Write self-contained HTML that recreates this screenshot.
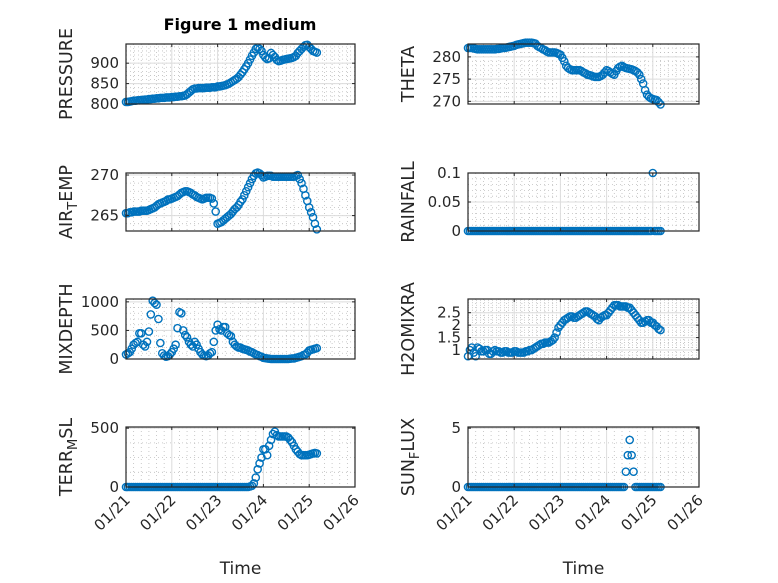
<!DOCTYPE html>
<html><head><meta charset="utf-8"><style>
body{margin:0;background:#fff;}
svg{display:block;font-family:"DejaVu Sans","Liberation Sans",sans-serif;}
</style></head><body>
<svg id="fig" width="778" height="583" viewBox="0 0 778 583">
<rect width="778" height="583" fill="#fff"/>
<text x="240" y="30" text-anchor="middle" font-size="16" font-weight="bold" fill="#000">Figure 1 medium</text>
</svg>
<script>
const dayLabels=["01/21","01/22","01/23","01/24","01/25","01/26"];
const pressure=[805,805,806,807,808,808,809,809,810,810,811,811,
812,812,813,813,814,814,815,815,815,816,816,816,
817,817,818,818,819,819,820,821,824,828,832,836,
838,838,839,839,839,839,840,840,840,841,841,841,
843,843,844,845,846,848,850,853,856,859,862,866,
872,878,885,892,900,909,918,926,935,938,935,930,
920,914,910,912,925,920,915,908,905,906,908,909,
910,911,912,913,915,918,925,930,935,940,944,945,
940,935,930,928,926];
const theta=[282,282,282,281.9,281.8,281.7,281.7,281.7,281.7,281.7,281.7,281.7,
281.7,281.7,281.7,281.8,281.8,281.9,282,282,282.1,282.2,282.3,282.4,
282.5,282.7,282.8,282.9,283,283.1,283.2,283.2,283.2,283.2,283.1,283,
282.5,282.2,282,281.7,281.5,281.2,281,281,281,281,280.9,280.7,
280.5,279.8,279,278,277.5,277.2,277,277,277,277,277,276.8,
276.5,276.3,276,275.9,275.8,275.6,275.5,275.5,275.5,275.7,276,276.5,
277,276.8,276.5,276.2,276,276.8,277.5,277.8,278,277.7,277.5,277.4,
277.3,277.2,277,276.8,276.5,276,275,274,272.5,271.5,271,270.7,
270.5,270.4,270.3,269.8,269.3];
const airTemp=[265.3,265.3,265.4,265.4,265.5,265.5,265.5,265.5,265.6,265.6,265.6,265.6,
265.7,265.8,265.9,266,266.2,266.4,266.5,266.6,266.7,266.8,267,267,
267.1,267.2,267.3,267.4,267.6,267.8,267.9,268,268,267.9,267.8,267.6,
267.5,267.3,267.2,267.1,267,267.1,267.2,267.2,267.2,267.1,266.5,265.5,
264,264.1,264.2,264.4,264.6,264.8,265,265.2,265.5,265.8,266,266.3,
266.7,267,267.5,268,268.5,269,269.5,269.9,270.2,270.3,270.2,270,
269.7,269.8,269.9,269.9,269.9,269.8,269.8,269.8,269.8,269.8,269.8,269.8,
269.8,269.8,269.8,269.8,269.8,269.9,270,269.5,269,268.3,267.5,266.8,
266,265.4,264.8,264,263.3];
const rainfall=[0,0,0,0,0,0,0,0,0,0,0,0,
0,0,0,0,0,0,0,0,0,0,0,0,
0,0,0,0,0,0,0,0,0,0,0,0,
0,0,0,0,0,0,0,0,0,0,0,0,
0,0,0,0,0,0,0,0,0,0,0,0,
0,0,0,0,0,0,0,0,0,0,0,0,
0,0,0,0,0,0,0,0,0,0,0,0,
0,0,0,0,0,0,0,0,0,0,0,0,
0.1,0,0,0,0];
const mixDepth=[80,100,120,180,250,280,300,450,450,250,220,300,
480,780,1020,980,950,700,280,100,60,40,50,80,
120,180,250,540,820,800,500,420,380,300,250,220,
300,250,180,120,80,60,50,60,100,120,300,500,
600,520,500,560,560,450,420,400,300,250,220,200,
200,180,170,160,150,130,120,100,80,70,50,40,
20,15,10,5,0,0,0,0,0,0,0,0,
0,0,5,10,10,20,30,40,50,70,80,110,
150,160,170,180,190];
const h2oMix=[0.75,1.0,1.1,0.9,0.75,1.1,1.05,0.95,0.95,1.0,1.0,0.85,
0.85,0.95,1.0,0.95,0.95,0.9,0.9,0.95,0.95,0.9,0.9,0.9,
0.95,0.95,0.9,0.9,0.9,0.9,0.95,0.95,1.0,1.0,1.05,1.1,
1.15,1.2,1.25,1.25,1.3,1.3,1.3,1.35,1.4,1.5,1.7,1.9,
2.0,2.1,2.2,2.25,2.3,2.35,2.35,2.3,2.3,2.35,2.4,2.45,
2.5,2.55,2.55,2.5,2.45,2.4,2.35,2.25,2.2,2.3,2.35,2.4,
2.4,2.5,2.6,2.7,2.8,2.8,2.8,2.75,2.75,2.75,2.75,2.7,
2.7,2.6,2.5,2.4,2.3,2.2,2.1,2.1,2.15,2.2,2.2,2.1,
2.1,2.0,1.95,1.85,1.8];
const terrMsl=[0,0,0,0,0,0,0,0,0,0,0,0,
0,0,0,0,0,0,0,0,0,0,0,0,
0,0,0,0,0,0,0,0,0,0,0,0,
0,0,0,0,0,0,0,0,0,0,0,0,
0,0,0,0,0,0,0,0,0,0,0,0,
0,0,0,0,0,5,10,30,80,150,200,250,
320,320,270,350,400,450,470,440,430,430,430,430,
430,420,400,380,350,320,300,280,270,270,270,270,
275,280,285,290,285];
const sunFlux=[0,0,0,0,0,0,0,0,0,0,0,0,
0,0,0,0,0,0,0,0,0,0,0,0,
0,0,0,0,0,0,0,0,0,0,0,0,
0,0,0,0,0,0,0,0,0,0,0,0,
0,0,0,0,0,0,0,0,0,0,0,0,
0,0,0,0,0,0,0,0,0,0,0,0,
0,0,0,0,0,0,0,0,0,0,1.3,2.7,
4.0,2.7,1.3,0,0,0,0,0,0,0,0,0,
0,0,0,0,0];
const pressureTicks=[800,850,900];
const thetaTicks=[270,275,280];
const airTicks=[265,270];
const rainTicks=[0,0.05,0.1];
const rainLabels=["0","0.05","0.1"];
const mixTicks=[0,500,1000];
const h2oTicks=[1,1.5,2,2.5];
const terrTicks=[0,500];
const sunTicks=[0,5];

const NS="http://www.w3.org/2000/svg";
const svg=document.getElementById('fig');
function mk(tag,attrs,parent){const e=document.createElementNS(NS,tag);for(const k in attrs)e.setAttribute(k,attrs[k]);(parent||svg).appendChild(e);return e;}

const panels=[
 {name:'pressure',data:pressure,ticks:pressureTicks,y0:800,y1:947,minor:5,col:0,row:0,label:['PRESSURE']},
 {name:'theta',data:theta,ticks:thetaTicks,y0:269.4,y1:282.9,minor:5,col:1,row:0,label:['THETA']},
 {name:'air-temp',data:airTemp,ticks:airTicks,y0:263.1,y1:270.25,minor:5,col:0,row:1,label:['AIR','T','EMP']},
 {name:'rainfall',data:rainfall,ticks:rainTicks,labels:rainLabels,y0:0,y1:0.1,minor:5,col:1,row:1,label:['RAINFALL']},
 {name:'mixdepth',data:mixDepth,ticks:mixTicks,y0:0,y1:1050,minor:5,col:0,row:2,label:['MIXDEPTH']},
 {name:'h2omixra',data:h2oMix,ticks:h2oTicks,y0:0.64,y1:3.05,minor:5,col:1,row:2,label:['H2OMIXRA']},
 {name:'terr-msl',data:terrMsl,ticks:terrTicks,y0:0,y1:510,minor:4,col:0,row:3,label:['TERR','M','SL']},
 {name:'sun-flux',data:sunFlux,ticks:sunTicks,y0:0,y1:5.1,minor:4,col:1,row:3,label:['SUN','F','LUX']}
];
const colX=[[126,355],[468,699]];
const rowY=[[44,104],[173,231],[299,359],[427,487]];

panels.forEach(p=>{
 const [L,R]=colX[p.col];const [T,B]=rowY[p.row];
 const g=mk('g',{});
 
 
 const xs=d=>L+(R-L)*d/5;
 const ys=v=>B-(B-T)*(v-p.y0)/(p.y1-p.y0);
 for(let d=0;d<5;d++)for(let k=1;k<6;k++){const x=xs(d+k/6);mk('line',{x1:x,x2:x,y1:T,y2:B,stroke:'#bdbdbd','stroke-width':0.8,'stroke-dasharray':'1 3'},g);}
 const step=p.ticks[1]-p.ticks[0];
 for(let v=p.ticks[0]-step*3;v<p.y1+step;v+=step/p.minor){const y=ys(v);if(y>T+0.5&&y<B-0.5)mk('line',{x1:L,x2:R,y1:y,y2:y,stroke:'#bdbdbd','stroke-width':0.8,'stroke-dasharray':'1 3'},g);}
 for(let d=1;d<5;d++){const x=xs(d);mk('line',{x1:x,x2:x,y1:T,y2:B,stroke:'#dcdcdc','stroke-width':1},g);}
 p.ticks.forEach(v=>{const y=ys(v);mk('line',{x1:L,x2:R,y1:y,y2:y,stroke:'#dcdcdc','stroke-width':1},g);});
 const mg=mk('g',{},g);
 
 
 p.data.forEach((v,i)=>{const c=mk('circle',{cx:xs(i/24),cy:ys(v),r:3.6,fill:'none',stroke:'#0072BD','stroke-width':1.4},mg);
  
  });
 mk('rect',{x:L,y:T,width:R-L,height:B-T,fill:'none',stroke:'#262626','stroke-width':1.2},g);
 for(let d=0;d<=5;d++){const x=xs(d);mk('line',{x1:x,x2:x,y1:B,y2:B-3,stroke:'#262626'},g);mk('line',{x1:x,x2:x,y1:T,y2:T+3,stroke:'#262626'},g);}
 p.ticks.forEach((v,i)=>{const y=ys(v);mk('line',{x1:L,x2:L+3,y1:y,y2:y,stroke:'#262626'},g);mk('line',{x1:R,x2:R-3,y1:y,y2:y,stroke:'#262626'},g);
  const t=mk('text',{x:L-7,y:y+5,'text-anchor':'end','font-size':15,fill:'#262626'},g);
  
  
  t.textContent=p.labels?p.labels[i]:String(v);});
 const lx=L-54;const ly=(T+B)/2;
 const yl=mk('text',{x:0,y:0,'text-anchor':'middle','font-size':17.5,fill:'#262626',transform:`translate(${lx},${ly}) rotate(-90)`},g);
 
 
 if(p.label.length===1){yl.textContent=p.label[0];}
 else{const a=mk('tspan',{},yl);a.textContent=p.label[0];const b=mk('tspan',{dy:5,'font-size':13},yl);b.textContent=p.label[1];const c=mk('tspan',{dy:-5},yl);c.textContent=p.label[2];}
 if(p.row===3){
  dayLabels.forEach((s,d)=>{const x=xs(d);const t=mk('text',{x:0,y:0,'text-anchor':'end','font-size':15,fill:'#262626',transform:`translate(${x+5},${B+14}) rotate(-45)`},g);
   
   
   t.textContent=s;});
  const xt=mk('text',{x:(L+R)/2,y:574,'text-anchor':'middle','font-size':17,fill:'#262626'},g);
  
  
  xt.textContent='Time';
 }
});
</script>
</body></html>
